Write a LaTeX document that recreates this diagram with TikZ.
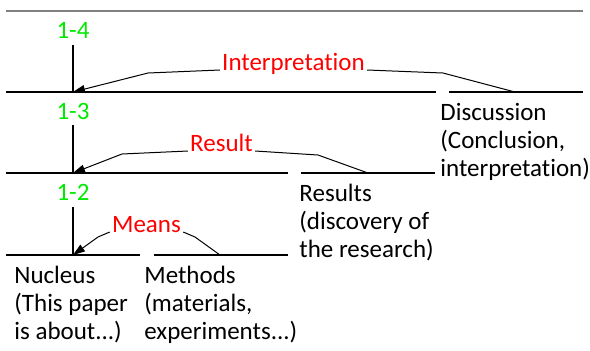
\documentclass[tikz,border=0pt]{standalone}
\usepackage{fontspec}
\setmainfont[Ligatures=NoCommon]{Carlito}
\usetikzlibrary{arrows.meta}
\definecolor{levelgreen}{RGB}{0,235,0}
\tikzset{
  level/.style={text=levelgreen, anchor=base, inner sep=0pt},
  move/.style={text=red, anchor=base, inner xsep=1pt, inner ysep=0pt},
  part/.style={align=left, anchor=north west, inner sep=0pt},
  callout/.style={line width=0.5pt},
  tip/.style={-{Triangle[length=6pt,width=4pt]}},
  rule/.style={line width=0.6pt}
}
\begin{document}
\begin{tikzpicture}[x=0.5pt,y=-0.5pt,font=\fontsize{12.5}{14}\selectfont]
 \useasboundingbox (0,0) rectangle (590,350);

 \draw [gray, line width=0.8pt] (6,11) -- (583,11);

 \node[level] (l4) at (73,38)  {1-4};
 \node[level] (l3) at (73,119) {1-3};
 \node[level] (l2) at (73,200) {1-2};

 \coordinate (t4) at (73,92);
 \coordinate (t3) at (73,173);
 \coordinate (t2) at (73,255);

 \draw [rule] (73,45) -- (t4);
 \draw [rule] (73,125) -- (t3);
 \draw [rule] (73,207) -- (t2);

 \draw [rule] (6,92) -- (436,92);
 \draw [rule] (449,92) -- (583,92);
 \draw [rule] (6,173) -- (288,173);
 \draw [rule] (301,173) -- (435,173);
 \draw [rule] (6,255) -- (140,255);
 \draw [rule] (154,255) -- (288,255);

 \node[move] (interp) at (293.5,70) {Interpretation};
 \node[move] (result) at (221.5,151) {Result};
 \node[move] (means)  at (146.5,232) {Means};

 \coordinate (e4) at (515,92);
 \coordinate (e3) at (368,173);
 \coordinate (e2) at (220,255);

 \draw [callout, tip] (interp.base west) -- (148,73) -- (t4);
 \draw [callout] (interp.base east) -- (443,73) -- (e4);
 \draw [callout, tip] (result.base west) -- (122,154) -- (t3);
 \draw [callout] (result.base east) -- (318,155) -- (e3);
 \draw [callout, tip] (means.base west) -- (98,237) -- (t2);
 \draw [callout] (means.base east) -- (195,237) -- (e2);

 \node[part] (nucleus) at (14,266)  {Nucleus\\(This paper\\is about...)};
 \node[part] (methods) at (144,266) {Methods\\(materials,\\experiments...)};
 \node[part] (results) at (299,184) {Results\\(discovery of\\the research)};
 \node[part] (discuss) at (440,103) {Discussion\\(Conclusion,\\interpretation)};
\end{tikzpicture}
\end{document}
